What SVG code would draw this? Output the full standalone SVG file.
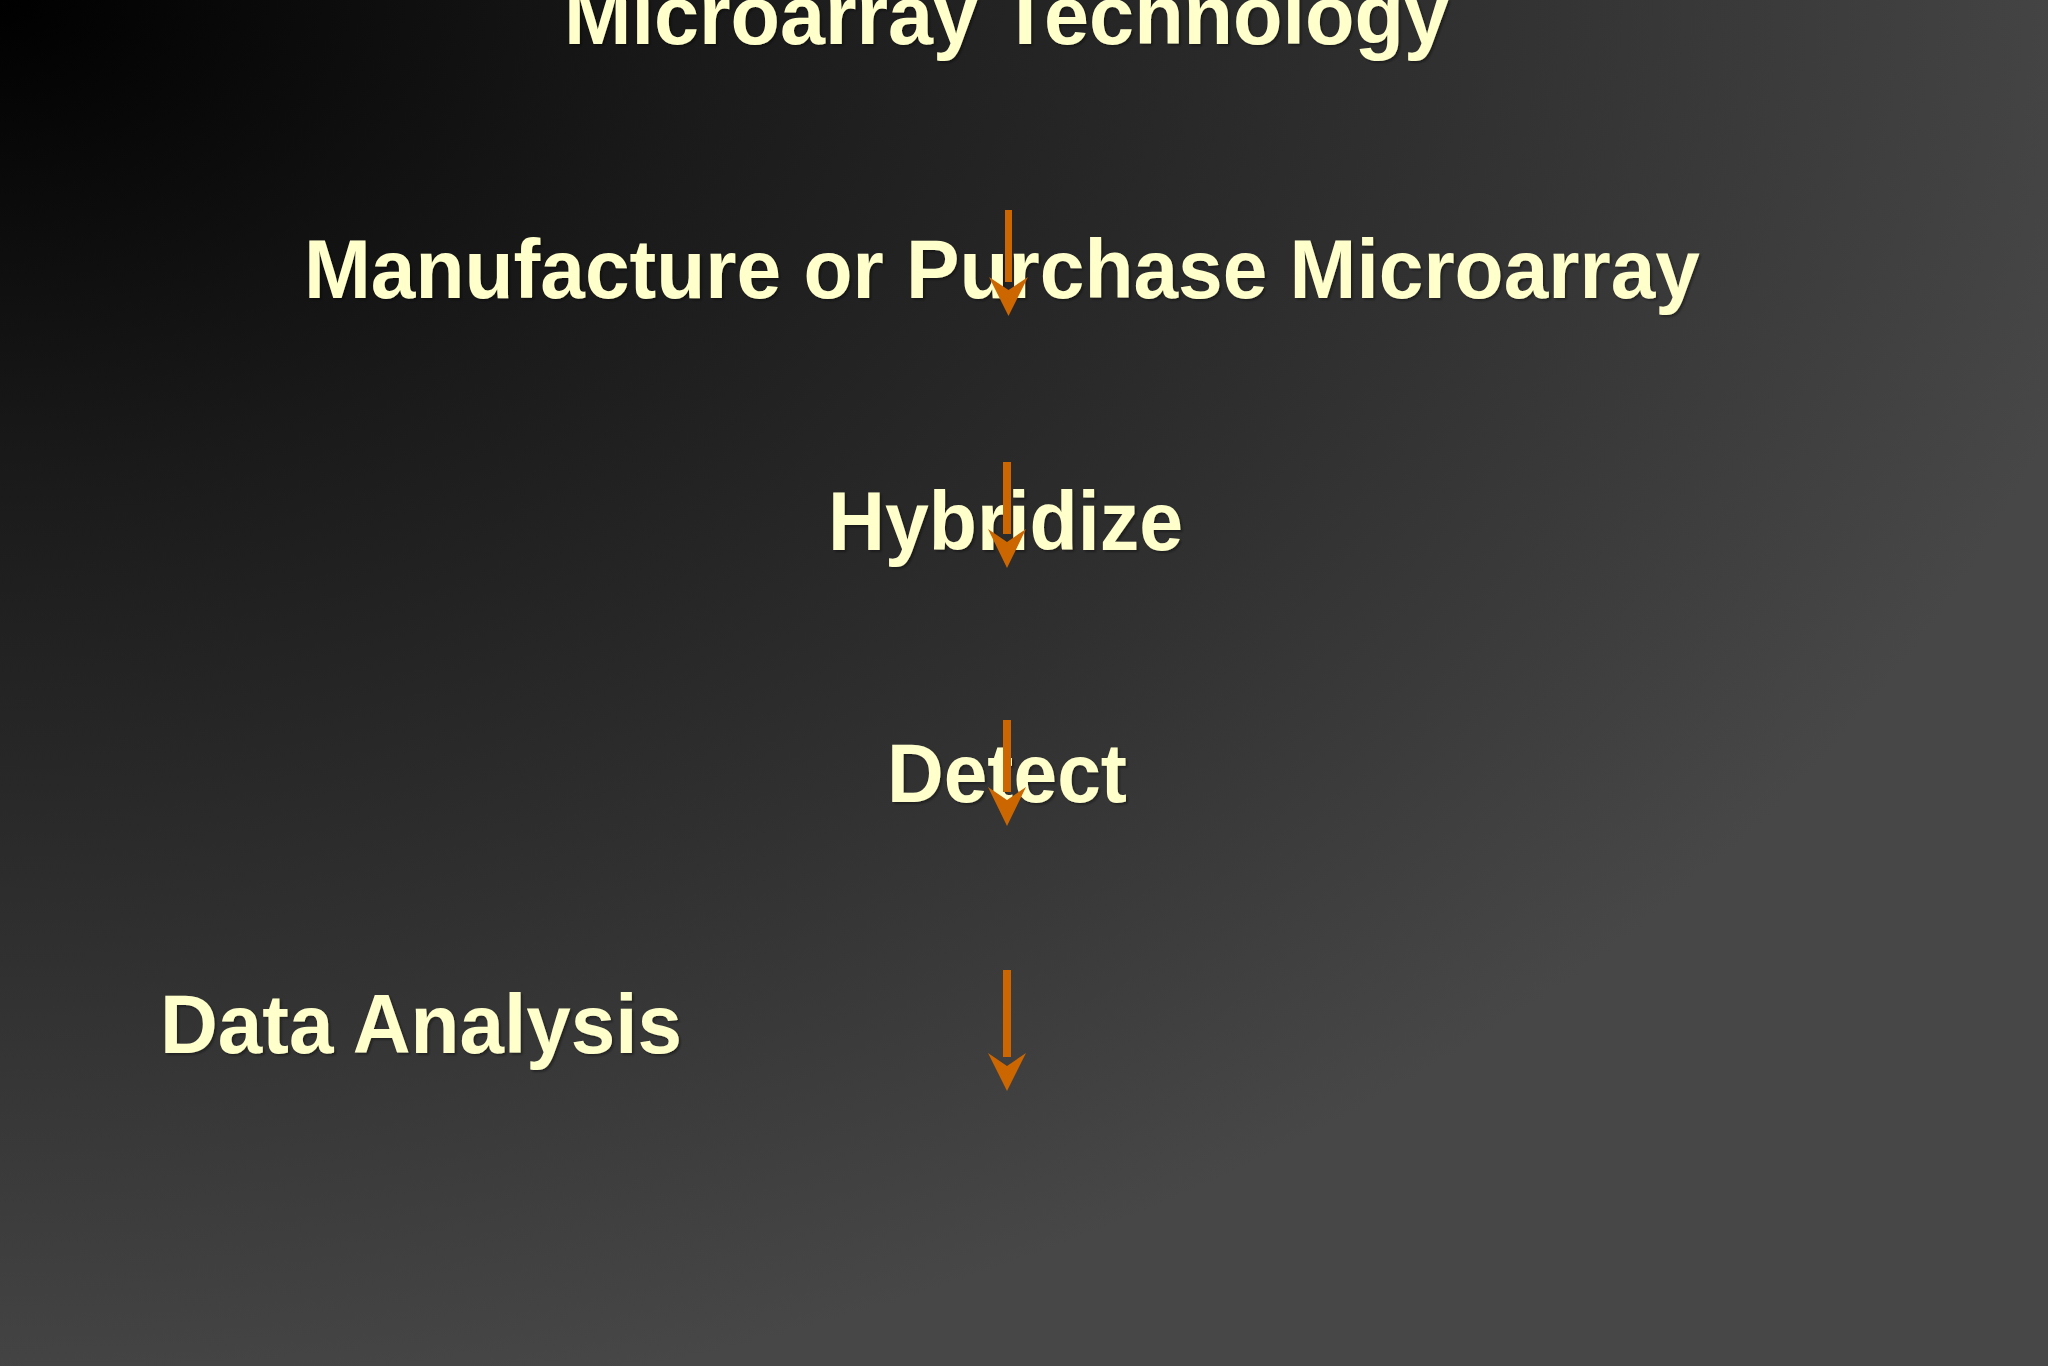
<svg xmlns="http://www.w3.org/2000/svg" width="2048" height="1366" viewBox="0 0 2048 1366">
<style>
.t{font-family:"Liberation Sans",Arial,sans-serif;font-weight:bold;font-size:84px;fill:#FFFFCC;filter:url(#sh)}
.shaft{fill:#CC6600}
.head{fill:#CC6600}
</style>
<defs>
<radialGradient id="bg" cx="0" cy="0" r="1.05" fx="0" fy="0" gradientUnits="objectBoundingBox">
<stop offset="0" stop-color="#000000"/>
<stop offset="0.33" stop-color="#1a1a1a"/>
<stop offset="0.67" stop-color="#303030"/>
<stop offset="1" stop-color="#474747"/>
</radialGradient>
<filter id="sh" x="-5%" y="-20%" width="110%" height="140%">
<feDropShadow dx="2" dy="2" stdDeviation="1" flood-color="#000000" flood-opacity="0.35"/>
</filter>
</defs>
<rect x="0" y="0" width="2048" height="1366" fill="url(#bg)"/>
<g id="title"><text class="t" x="564" y="44" textLength="885" lengthAdjust="spacingAndGlyphs">Microarray Technology</text></g>
<g id="node-manufacture"><text class="t" x="304" y="298" textLength="1396" lengthAdjust="spacingAndGlyphs">Manufacture or Purchase Microarray</text></g>
<g id="node-hybridize"><text class="t" x="828" y="550" textLength="355" lengthAdjust="spacingAndGlyphs">Hybridize</text></g>
<g id="node-detect"><text class="t" x="887" y="802" textLength="240" lengthAdjust="spacingAndGlyphs">Detect</text></g>
<g id="node-analysis"><text class="t" x="160" y="1053" textLength="522" lengthAdjust="spacingAndGlyphs">Data Analysis</text></g>
<g id="connectors">
<rect class="shaft" x="1005" y="210" width="7" height="72"/>
<path class="head" d="M989,277 L1008.5,290 L1028,277 L1008.5,316 Z"/>
<rect class="shaft" x="1003" y="462" width="8" height="72"/>
<path class="head" d="M988,529 L1007,542 L1026,529 L1007,568 Z"/>
<rect class="shaft" x="1003" y="720" width="8" height="72"/>
<path class="head" d="M988,787 L1007,800 L1026,787 L1007,826 Z"/>
<rect class="shaft" x="1003" y="970" width="8" height="87"/>
<path class="head" d="M988,1053 L1007,1066 L1026,1053 L1007,1091 Z"/>
</g>
</svg>
